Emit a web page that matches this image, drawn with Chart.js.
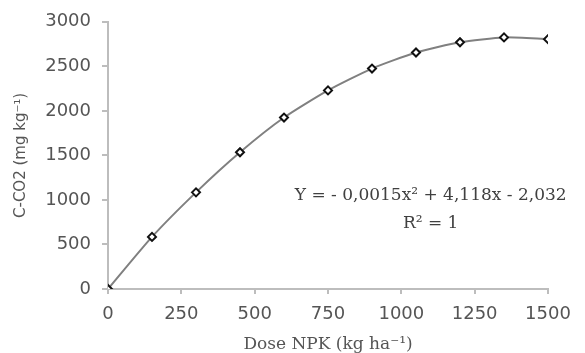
<!DOCTYPE html>
<html>
<head>
<meta charset="utf-8">
<script src="https://cdn.jsdelivr.net/npm/chart.js@4/dist/chart.umd.min.js"></script>
<style>
    html, body { margin: 0; padding: 0; background: #fff; }
    #wrap { width: 585px; height: 353px; position: relative; }
</style>
</head>
<body>
<div id="wrap"><canvas id="chart"></canvas></div>
<script>
const doses = [0, 150, 300, 450, 600, 750, 900, 1050, 1200, 1350, 1500];
const co2 = [0, 585, 1085, 1535, 1925, 2230, 2475, 2655, 2770, 2825, 2805];
const equationLines = ['Y = - 0,0015x\u00b2 + 4,118x - 2,032', 'R\u00b2 = 1'];

const AXIS_GREY = '#bdbdbd';
const TEXT_GREY = '#555555';

// writes the regression equation, anchored on data coordinates
const equationPlugin = {
    id: 'equation',
    afterDatasetsDraw(chart) {
        const { ctx, scales } = chart;
        const cx = scales.x.getPixelForValue(1100);
        ctx.save();
        ctx.fillStyle = '#404040';
        ctx.font = '17px "DejaVu Serif"';
        ctx.textAlign = 'center';
        ctx.textBaseline = 'middle';
        ctx.fillText(equationLines[0], cx, scales.y.getPixelForValue(1050));
        ctx.fillText(equationLines[1], cx, scales.y.getPixelForValue(740));
        ctx.restore();
    }
};

new Chart(document.getElementById('chart'), {
    type: 'line',
    data: {
        datasets: [{
            data: doses.map((d, i) => ({ x: d, y: co2[i] })),
            borderColor: '#808080',
            borderWidth: 2,
            tension: 0.2,
            pointStyle: 'rectRot',
            pointRadius: 4,
            pointBorderWidth: 2,
            pointBorderColor: '#111',
            pointBackgroundColor: '#fff'
        }]
    },
    options: {
        responsive: true,
        maintainAspectRatio: false,
        animation: false,
        events: [],
        layout: { padding: { top: 20, right: 37, left: 0, bottom: 0 } },
        plugins: {
            legend: { display: false },
            tooltip: { enabled: false }
        },
        scales: {
            x: {
                type: 'linear',
                min: 0,
                max: 1500,
                ticks: {
                    stepSize: 250,
                    color: TEXT_GREY,
                    font: { family: 'DejaVu Sans', size: 18 },
                    padding: 10,
                    maxRotation: 0,
                    callback: (v) => String(v)
                },
                grid: {
                    drawOnChartArea: false,
                    drawTicks: true,
                    tickLength: 5,
                    color: AXIS_GREY,
                    lineWidth: 2
                },
                border: { display: true, color: AXIS_GREY, width: 2 },
                title: {
                    display: true,
                    text: 'Dose NPK (kg ha\u207b\u00b9)',
                    color: TEXT_GREY,
                    font: { family: 'DejaVu Serif', size: 17, lineHeight: 1 },
                    padding: { top: 0, bottom: 0 }
                },
                afterFit(scale) { scale.height = 64; }
            },
            y: {
                min: 0,
                max: 3000,
                ticks: {
                    stepSize: 500,
                    color: TEXT_GREY,
                    font: { family: 'DejaVu Sans', size: 18 },
                    padding: 11,
                    callback: (v) => String(v)
                },
                grid: {
                    drawOnChartArea: false,
                    drawTicks: true,
                    tickLength: 6,
                    color: AXIS_GREY,
                    lineWidth: 2
                },
                border: { display: true, color: AXIS_GREY, width: 2 },
                title: {
                    display: true,
                    text: 'C-CO2 (mg kg\u207b\u00b9)',
                    color: TEXT_GREY,
                    font: { family: 'DejaVu Sans', size: 15 },
                    padding: { top: 12, bottom: 0 }
                },
                afterFit(scale) { scale.width = 108; }
            }
        }
    },
    plugins: [equationPlugin]
});
</script>
</body>
</html>
